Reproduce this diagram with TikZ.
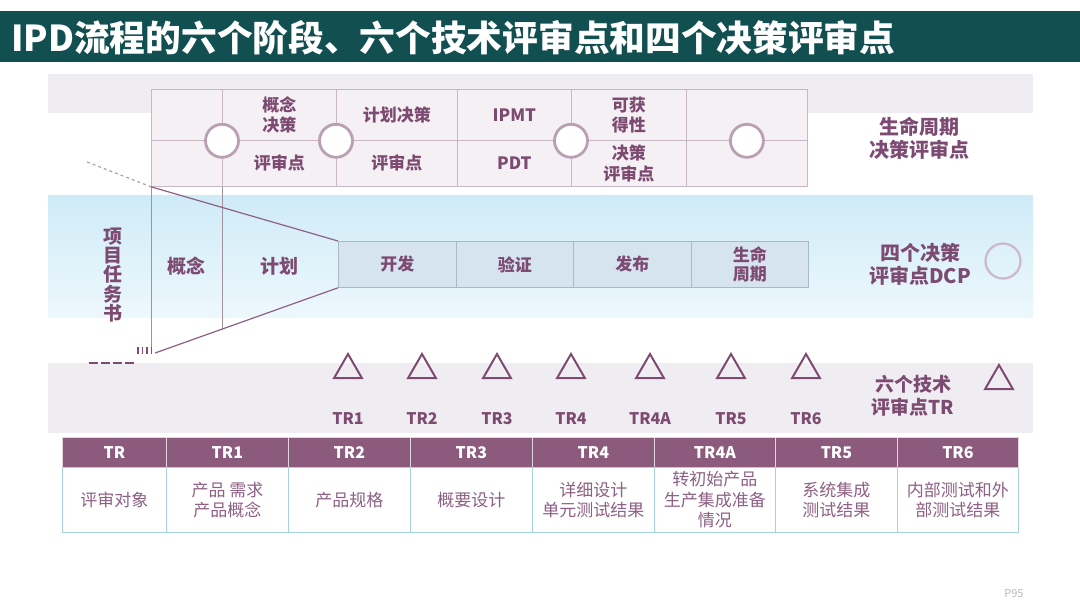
\documentclass[tikz,border=0pt]{standalone}
\usepackage{fontspec}
\setmainfont{Noto Sans CJK SC}
\usetikzlibrary{positioning,calc,shapes.geometric}

\definecolor{titlebg}{HTML}{124F51}
\definecolor{plum}{HTML}{7D4B72}
\definecolor{plumlight}{HTML}{8E6085}
\definecolor{plumhead}{HTML}{8B5A7C}
\definecolor{lavline}{HTML}{C9B7C6}
\definecolor{lavfill}{HTML}{F4F0F4}
\definecolor{lavband}{HTML}{F0EDF2}
\definecolor{ringcol}{HTML}{B9A0B3}
\definecolor{phasefill}{HTML}{D5E4EE}
\definecolor{phaseline}{HTML}{A9BAC6}
\definecolor{tabline}{HTML}{A6D2DE}
\definecolor{bluetop}{HTML}{CFEBF8}
\definecolor{bluebot}{HTML}{EDF8FC}

\begin{document}
\begin{tikzpicture}[x=1pt, y=-1pt,
    lbl/.style={text=plum, font=\bfseries\fontsize{16}{20}\selectfont, align=center, inner sep=0pt},
    biglbl/.style={text=plum, font=\bfseries\fontsize{20}{23}\selectfont, align=center, inner sep=0pt},
    dcell/.style={draw=lavline, fill=lavfill, line width=0.8pt, anchor=north west, inner sep=0pt, align=center,
        text=plum, font=\bfseries\fontsize{17}{20.5}\selectfont, minimum height=#1},
    ring/.style={circle, draw=ringcol, line width=2.8pt, fill=white, minimum size=33pt, inner sep=0pt},
    phase/.style={draw=phaseline, fill=phasefill, line width=0.8pt, anchor=north west, minimum height=46pt,
        inner sep=0pt, align=center, text=plum, font=\bfseries\fontsize{17}{19}\selectfont},
    funnel/.style={draw=plumlight, line width=1.2pt},
    tri/.style={regular polygon, regular polygon sides=3, draw=plum, line width=2pt, minimum size=32pt, inner sep=0pt},
    head/.style={draw=white!75!plumhead, fill=plumhead, line width=0.8pt, anchor=north west, minimum height=30pt,
        inner sep=0pt, text=white, font=\bfseries\fontsize{16}{20}\selectfont},
    body/.style={draw=tabline, fill=white, line width=0.9pt, anchor=north west, minimum height=65pt,
        inner sep=0pt, align=center, text=plumlight, font=\fontsize{17}{20.5}\selectfont}
]
    \useasboundingbox (0,0) rectangle (1080,608);

    % Title bar
    \fill[titlebg] (0,11) rectangle (1080,62);
    \node[anchor=west, text=white, font=\bfseries\fontsize{35.7}{38}\selectfont, inner sep=0pt] (title) at (11,38)
        {IPD流程的六个阶段、六个技术评审点和四个决策评审点};

    % Bands
    \fill[lavband] (48,74) rectangle (1033,113);
    \shade[top color=bluetop, bottom color=bluebot] (48,195) rectangle (1033,317);
    \fill[lavband] (48,363) rectangle (1033,433);

    % Lifecycle decision table
    \node[dcell=51pt, minimum width=71pt]  (d10) at (151,89) {};
    \node[dcell=51pt, minimum width=114pt] (d11) at (222,89) {概念\\决策};
    \node[dcell=51pt, minimum width=121pt] (d12) at (336,89) {计划决策};
    \node[dcell=51pt, minimum width=114pt] (d13) at (457,89) {IPMT};
    \node[dcell=51pt, minimum width=115pt] (d14) at (571,89) {可获\\得性};
    \node[dcell=51pt, minimum width=121pt] (d15) at (686,89) {};
    \node[dcell=46pt, minimum width=71pt]  (d20) at (151,140) {};
    \node[dcell=46pt, minimum width=114pt] (d21) at (222,140) {评审点};
    \node[dcell=46pt, minimum width=121pt] (d22) at (336,140) {评审点};
    \node[dcell=46pt, minimum width=114pt] (d23) at (457,140) {PDT};
    \node[dcell=46pt, minimum width=115pt] (d24) at (571,140) {决策\\评审点};
    \node[dcell=46pt, minimum width=121pt] (d25) at (686,140) {};

    \node[ring] (ring1) at (d11.south west) {};
    \node[ring] (ring2) at (d12.south west) {};
    \node[ring] (ring3) at (d14.south west) {};
    \node[ring] (ring4) at (d15.south) {};

    \node[biglbl] (ldcp) at (919,138) {生命周期\\决策评审点};

    % Phases
    \node[phase, minimum width=118pt] (p1) at (338,241) {开发};
    \node[phase, minimum width=117pt] (p2) at (456,241) {验证};
    \node[phase, minimum width=118pt] (p3) at (573,241) {发布};
    \node[phase, minimum width=117pt] (p4) at (691,241) {生命\\周期};

    % Funnel
    \coordinate (dashL) at (87,162);
    \coordinate (fBot) at (155,353);
    \coordinate (v1) at (151,353);
    \coordinate (v2) at (222,330);
    \draw[draw=lavline!80!black, line width=0.7pt] (d20.south west) -- (v1);
    \draw[draw=lavline!80!black, line width=0.7pt] (d21.south west) -- (v2);
    \draw[funnel, dashed, draw=gray!70] (dashL) -- (d20.south west);
    \draw[funnel] (d20.south west) -- (p1.north west);
    \draw[funnel] (fBot) -- (p1.south west);
    \draw[draw=plum, line width=2pt, dash pattern=on 9pt off 3pt] (89,363) -- (134,363);
    \foreach \tx in {138,142.5,147,151.5}
        \draw[draw=plum, line width=1.4pt] (\tx,347) -- (\tx,354);

    \node[biglbl, font=\bfseries\fontsize{19}{19.3}\selectfont] (task) at (113,275) {项\\目\\任\\务\\书};
    \node[biglbl, font=\bfseries\fontsize{19}{22}\selectfont] (gn) at (186,266) {概念};
    \node[biglbl, font=\bfseries\fontsize{19}{22}\selectfont] (jh) at (279,266) {计划};

    \node[biglbl] (l4dcp) at (920,264) {四个决策\\评审点DCP};
    \node[circle, draw=gray!60!violet!40, line width=2.2pt, minimum size=35pt, inner sep=0pt] (dcpring) at (1003,261) {};

    % Technical reviews
    \foreach \tx/\tn [count=\i] in {348/TR1, 422/TR2, 497/TR3, 571/TR4, 650/TR4A, 731/TR5, 806/TR6} {
        \node[tri] (tri\i) at (\tx,370) {};
        \node[lbl] (tr\i) at (\tx,419) {\tn};
    }
    \node[tri] (trikey) at (999,381) {};
    \node[biglbl, font=\bfseries\fontsize{19}{23}\selectfont] (ltr) at (913,396) {六个技术\\评审点TR};

    % Review table
    \foreach \xa/\w/\hd/\bd [count=\i] in {62/104/TR/{评审对象}, 166/122/TR1/{产品 需求\\产品概念},
        288/122/TR2/{产品规格}, 410/122/TR3/{概要设计}, 532/122/TR4/{详细设计\\单元测试结果},
        654/121/TR4A/{转初始产品\\生产集成准备\\情况}, 775/122/TR5/{系统集成\\测试结果},
        897/121/TR6/{内部测试和外\\部测试结果}} {
        \node[head, minimum width=\w pt] (h\i) at (\xa,437) {\hd};
        \node[body, minimum width=\w pt] (b\i) at (\xa,467) {\bd};
    }

    \node[text=gray!55, font=\fontsize{11}{12}\selectfont, inner sep=0pt] (page) at (1014,594) {P95};
\end{tikzpicture}
\end{document}
